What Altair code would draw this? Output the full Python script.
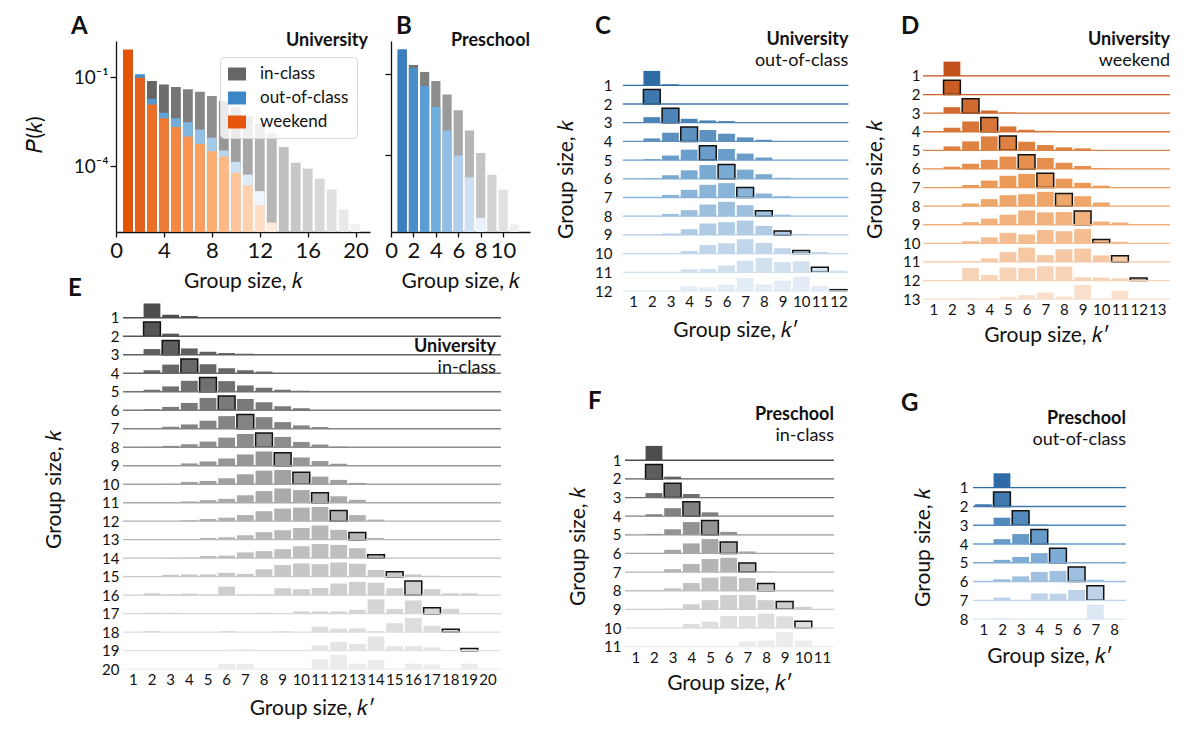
import altair as alt
import pandas as pd

FONT = "Lato"
INK = "#111111"

# ---------------- panels A/B: P(k) by context ----------------
uni_inclass = [0.6, 0.1, 0.074, 0.056, 0.046, 0.039, 0.032, 0.023, 0.0155, 0.0093,
               0.0049, 0.0027, 0.0013, 4.4e-4, 1.3e-4, 8.3e-5, 3.8e-5, 1.66e-5, 3.5e-6, 1.15e-6]
uni_outclass = [0.8, 0.123, 0.0186, 0.0063, 0.0041, 0.003, 0.0017, 9.1e-4, 3.4e-4, 1.4e-4,
                5.2e-5, 1.45e-5]
uni_weekend = [0.85, 0.095, 0.012, 0.0041, 0.0021, 0.001, 5.6e-4, 3.2e-4, 2.1e-4, 6e-5,
               2.3e-5, 4.9e-6, 1.26e-6]

pre_inclass = [0.7, 0.21, 0.117, 0.054, 0.017, 0.0044, 7.9e-4, 1.15e-4, 1.8e-5, 5e-6, 2.6e-7]
pre_outclass = [0.81, 0.166, 0.035, 0.0058, 7.9e-4, 9.3e-5, 1.45e-5, 4.5e-7]

series_names = ["in-class", "out-of-class", "weekend"]
legend_colors = ["#666666", "#3a86c6", "#e6550d"]

a_xticks = [0, 4, 8, 12, 16, 20]
b_xticks = [0, 2, 4, 6, 8, 10]
p_ticks = [1e-1, 1e-4]
p_tick_labels = ["10⁻¹", "10⁻⁴"]

# ---------------- panels C-G: P(k'|k), row-relative bar heights ----------------
uni_out_trans = [
    [0, 43, 3],
    [0, 43],
    [0, 17, 44, 12, 7, 5],
    [0, 9, 26, 43, 34, 23, 12, 5],
    [0, 3, 14, 32, 44, 34, 20, 8],
    [0, 2, 11, 26, 42, 44, 28, 14, 3],
    [0, 0, 8, 23, 38, 43, 30, 12, 4],
    [0, 0, 7, 18, 35, 43, 33, 16, 5],
    [0, 0, 4, 17, 34, 38, 43, 27, 12, 3],
    [0, 0, 1, 8, 26, 31, 43, 32, 16, 9, 5],
    [0, 0, 0, 9, 10, 20, 34, 42, 30, 32, 15, 5],
    [0, 1, 1, 14, 11, 19, 39, 20, 31, 43, 15, 4],
]
uni_wkd_trans = [
    [0, 42],
    [0, 44],
    [0, 18, 43, 8, 2],
    [0, 12, 31, 43, 16, 6, 3],
    [0, 12, 27, 42, 43, 26, 16, 9, 6],
    [0, 7, 16, 28, 38, 44, 34, 19, 9, 2],
    [0, 2, 8, 22, 37, 43, 45, 28, 15, 6],
    [0, 0, 8, 21, 33, 36, 43, 38, 30, 11],
    [0, 0, 8, 19, 31, 44, 38, 39, 42, 10, 7],
    [0, 0, 7, 19, 33, 28, 42, 38, 45, 12, 5],
    [0, 0, 2, 11, 30, 44, 21, 39, 41, 20, 19],
    [0, 0, 38, 17, 39, 38, 43, 42, 10, 9, 7, 8],
    [0, 0, 2, 0, 7, 12, 20, 8, 43, 1, 25],
]
uni_in_trans = [
    [0, 43, 9, 5],
    [0, 44, 8],
    [0, 17, 43, 19, 9, 5, 3],
    [0, 9, 26, 43, 27, 15, 9, 5],
    [0, 6, 16, 33, 43, 32, 19, 12, 6, 3],
    [0, 3, 10, 22, 37, 43, 34, 24, 12, 6],
    [0, 2, 6, 13, 24, 38, 43, 35, 20, 10, 5],
    [0, 1, 4, 9, 17, 29, 40, 43, 31, 16, 8, 2],
    [0, 0, 2, 7, 13, 22, 34, 43, 39, 25, 14, 6],
    [0, 0, 1, 7, 10, 18, 30, 41, 43, 36, 23, 13, 4],
    [0, 0, 0, 4, 8, 12, 23, 36, 44, 39, 31, 20, 9, 2],
    [0, 0, 0, 3, 7, 11, 19, 31, 39, 42, 44, 33, 19, 5],
    [0, 0, 0, 2, 6, 8, 14, 24, 30, 37, 45, 31, 23, 6],
    [0, 0, 1, 2, 7, 8, 18, 22, 28, 37, 44, 41, 31, 11],
    [1, 2, 6, 7, 7, 12, 9, 23, 36, 41, 39, 44, 40, 21, 15, 7, 3],
    [0, 6, 3, 5, 2, 27, 2, 2, 22, 19, 23, 37, 42, 39, 22, 45, 19, 6, 6],
    [0, 3, 3, 0, 0, 0, 0, 3, 0, 7, 7, 7, 12, 43, 14, 40, 18, 15, 2],
    [0, 4, 0, 0, 0, 4, 0, 0, 3, 0, 17, 11, 12, 3, 28, 44, 20, 9],
    [0, 0, 0, 1, 0, 3, 4, 0, 0, 0, 16, 27, 21, 44, 14, 14, 10, 0, 7],
    [0, 0, 0, 0, 0, 16, 16, 0, 0, 0, 31, 44, 17, 29, 0, 17, 15, 0, 17],
]
pre_in_trans = [
    [0, 45],
    [0, 45, 7],
    [0, 14, 45, 11],
    [0, 6, 25, 45, 12],
    [0, 3, 17, 39, 44, 9],
    [0, 0, 11, 30, 43, 34, 6],
    [0, 0, 9, 25, 40, 44, 28, 2],
    [0, 0, 7, 23, 39, 43, 38, 22],
    [0, 0, 2, 15, 27, 42, 42, 27, 23, 8],
    [0, 0, 0, 12, 19, 36, 36, 43, 35, 20],
    [0, 0, 0, 0, 0, 0, 16, 19, 44, 19],
]
pre_out_trans = [
    [0, 44],
    [7, 45, 1],
    [0, 24, 46, 2],
    [0, 15, 31, 45],
    [0, 9, 18, 30, 45],
    [0, 7, 16, 30, 33, 45, 6],
    [0, 9, 0, 22, 21, 33, 46],
    [0, 2, 0, 0, 0, 0, 44],
]

BAR_H = 0.77   # tallest bar in a row, in row units
LINE_X0 = 0.45
PX = 18.67     # pixels per k' step in the ridge panels
TICK_FS = 15


def text_layer(s, x, y, size, weight="normal", align="left"):
    return alt.Chart(pd.DataFrame({"t": [s]})).mark_text(
        align=align, baseline="alphabetic", fontSize=size, fontWeight=weight,
        font=FONT, color=INK
    ).encode(x=alt.value(x), y=alt.value(y), text="t:N")


def long_df(values, series):
    return pd.DataFrame({"k": list(range(1, len(values) + 1)), "p": values, "series": series})


# Helper for the P(k) bar panels (A, B)
def dist_panel(parts, xmax, xticks, ydom, ylabels, width, height, letter, letter_xy,
               name, name_x, legend=False):
    df = pd.concat([long_df(v, s) for s, v, _, _ in parts], ignore_index=True)
    xs = alt.Scale(domain=[0, xmax], nice=False, zero=False)
    ys = alt.Scale(type="log", domain=ydom, nice=False)
    label_expr = " : ".join(
        f"datum.value == {v} ? '{l}'" for v, l in zip(p_ticks, p_tick_labels)) + " : ''"
    xaxis = alt.Axis(values=xticks, format="d", grid=False, labelFontSize=22, labelPadding=3,
                     labelFlush=False, tickSize=5, title="Group size, 𝑘", titleFontSize=21,
                     titleFontWeight="normal", titleBaseline="alphabetic", titleY=55)
    if ylabels:
        yaxis = alt.Axis(values=p_ticks, labelExpr=label_expr, grid=False, labelFontSize=19,
                         labelPadding=2, tickSize=6, title="𝑃(𝑘)", titleFontSize=21,
                         titleFontWeight="normal", titleX=-71, titleY=93)
    else:
        yaxis = alt.Axis(values=p_ticks, labels=False, grid=False, tickSize=6, title=None)

    layers = []
    for s, v, cdom, crange in parts:
        layers.append(
            alt.Chart(df).transform_filter(alt.datum.series == s).transform_calculate(
                x0="datum.k - 0.41", x1="datum.k + 0.41"
            ).mark_bar().encode(
                x=alt.X("x0:Q", scale=xs, axis=xaxis),
                x2="x1:Q",
                y=alt.Y("p:Q", scale=ys, axis=yaxis),
                y2=alt.value("height"),
                color=alt.Color("k:Q", scale=alt.Scale(domain=cdom, range=crange), legend=None),
            )
        )
    if legend:
        layers.append(
            alt.Chart(df).mark_point(filled=True, opacity=0).encode(
                color=alt.Color("series:N",
                                scale=alt.Scale(domain=series_names, range=legend_colors),
                                legend=alt.Legend(
                                    title=None, orient="none", legendX=104, legendY=16,
                                    symbolType="M-1,-0.72H1V0.72H-1Z", symbolSize=324,
                                    symbolOpacity=1, symbolStrokeWidth=0, labelFontSize=17,
                                    labelFont=FONT, labelColor=INK, labelOffset=14,
                                    padding=8, rowPadding=7, strokeColor="#d9d9d9",
                                    fillColor="rgba(255,255,255,0.8)", cornerRadius=4))
            )
        )
    layers.append(text_layer(letter, letter_xy[0], letter_xy[1], 24, "bold"))
    layers.append(text_layer(name, name_x, 5, 18, "bold", "right"))
    return alt.layer(*layers).resolve_scale(color="independent").properties(
        width=width, height=height)


# Helper for the ridge panels (C-G): one row per k, bars over k'
# x_left: domain value at the plot's left edge; x_end: where the row lines stop.
# With own_labels the k' labels are drawn as text through the x scale, so that
# they can run on past the plot's right edge (panel E).
def ridge(mat, crange, name, context, letter, letter_xy, title_y, x_left, x_end, width,
          ydom, row_px, ytitle_xy, yoffset=0, ypad=3, xtitle_y=41, name_x=None,
          own_labels=False):
    n = len(mat)
    rows = [dict(k=k, kp=kp, w=w) for k, r in enumerate(mat, 1) for kp, w in enumerate(r, 1) if w > 0]
    df = pd.DataFrame(rows)
    xs = alt.Scale(domain=[x_left, x_left + width / PX], nice=False, zero=False)
    ys = alt.Scale(domain=ydom, reverse=True, nice=False, zero=False)
    height = (ydom[1] - ydom[0]) * row_px
    ticks = list(range(1, n + 1))
    line_mid = ((LINE_X0 + x_end) / 2 - x_left) * PX
    if name_x is None:
        name_x = (x_end - x_left) * PX
    xaxis = alt.Axis(values=ticks, format="d", ticks=False, domain=False, grid=False,
                     labels=not own_labels,
                     labelFontSize=TICK_FS, labelPadding=1, labelFlush=False, labelOverlap=False,
                     labelBound=False, title="Group size, 𝑘′", titleFontSize=21,
                     titleFontWeight="normal", titleBaseline="alphabetic", titleY=xtitle_y,
                     titleX=line_mid)
    yaxis = alt.Axis(values=ticks, format="d", ticks=False, domain=False, grid=False,
                     labelFontSize=TICK_FS, labelPadding=ypad, offset=yoffset, labelOverlap=False,
                     title="Group size, 𝑘", titleFontSize=21, titleFontWeight="normal",
                     titleX=ytitle_xy[0], titleY=ytitle_xy[1])
    color = alt.Color("k:Q", scale=alt.Scale(domain=[1, (1 + n) / 2, n], range=crange), legend=None)

    base = alt.Chart(df).transform_joinaggregate(wmax="max(w)", groupby=["k"]).transform_calculate(
        top=f"datum.k - {BAR_H} * datum.w / datum.wmax",
        x0="datum.kp - 0.45", x1="datum.kp + 0.45")
    enc = dict(x=alt.X("x0:Q", scale=xs, axis=xaxis), x2="x1:Q",
               y=alt.Y("top:Q", scale=ys, axis=yaxis), y2="k:Q")
    fill = base.mark_bar().encode(color=color, **enc)
    outline = base.transform_filter("datum.k == datum.kp").mark_bar(
        fillOpacity=0, stroke=INK, strokeWidth=1.5).encode(**enc)
    lines = alt.Chart(pd.DataFrame({"k": ticks})).mark_rule(strokeWidth=1.3).encode(
        x=alt.X(datum=LINE_X0, type="quantitative", scale=xs, axis=xaxis),
        x2=alt.X2(datum=x_end),
        y=alt.Y("k:Q", scale=ys, axis=yaxis),
        color=color)
    layers = [fill, outline, lines]
    if own_labels:
        layers.append(
            alt.Chart(pd.DataFrame({"kp": ticks})).mark_text(
                baseline="top", fontSize=TICK_FS, font=FONT, color=INK
            ).encode(x=alt.X("kp:Q", scale=xs, axis=xaxis), y=alt.value(height + 1),
                     text="kp:Q"))
    layers += [text_layer(letter, letter_xy[0], letter_xy[1], 24, "bold"),
               text_layer(name, name_x, title_y, 18, "bold", "right"),
               text_layer(context, name_x, title_y + 21, 18, "normal", "right")]
    return alt.layer(*layers).properties(width=width, height=height)


def spacer():
    return alt.Chart(pd.DataFrame({"t": [""]})).mark_text().encode(text="t:N").properties(
        width=1, height=1)


gray_a = ["#555555", "#a0a0a0", "#f0f0f0"]
pA = dist_panel(
    [("in-class", uni_inclass, [1, 10, 20], gray_a),
     ("out-of-class", uni_outclass, [1, 6, 12], ["#3a82c4", "#7fb6df", "#eef5fc"]),
     ("weekend", uni_weekend, [1, 7, 13], ["#e35309", "#fd9f5c", "#feeadb"])],
    21.2, a_xticks, [6.1e-7, 1.63], True, 254, 191, "A", (-45, -7), "University", 252,
    legend=True)
pB = dist_panel(
    [("in-class", pre_inclass, [1, 6, 11], ["#666666", "#a8a8a8", "#efefef"]),
     ("out-of-class", pre_outclass, [1, 4, 8], ["#3a7fc0", "#6eaedc", "#e9f1fb"])],
    12.4, b_xticks, [1.35e-7, 1.64], False, 139, 191, "B", (5, -7), "Preschool", 139)

blues = ["#2f6ca6", "#80b0d6", "#e3ecf6"]
oranges = ["#c2501a", "#ec9a58", "#f8e0cc"]
grays = ["#4d4d4d", "#a6a6a6", "#ececec"]

pC = ridge(uni_out_trans, blues, "University", "out-of-class", "C", (44, -7), 4,
           -3.4, 12.53, 292, [-1.37, 12.15], 18.7, (-39, 138), yoffset=-64, xtitle_y=43)
pD = ridge(uni_wkd_trans, oranges, "University", "weekend", "D", (37, -7), 4,
           -2.71, 13.68, 306, [-0.88, 13.15], 18.6, (-38, 138), yoffset=-59, xtitle_y=40)
# E is narrower than its content on purpose: the rows run on under panel B
pE = ridge(uni_in_trans, grays, "University", "in-class", "E", (-48, -6), 50,
           0.073, 20.69, 254, [0.15, 20.15], 18.5, (-58, 187), yoffset=-6, xtitle_y=42,
           name_x=380, own_labels=True)
pF = ridge(pre_in_trans, grays, "Preschool", "in-class", "F", (37, 107), 118,
           -3.515, 11.64, 283, [-7.49, 11.15], 18.64, (-35, 244), yoffset=-72, ypad=2,
           xtitle_y=40)
pG = ridge(pre_out_trans, ["#2e6aa5", "#6ea2cf", "#dce7f3"], "Preschool", "out-of-class", "G",
           (37, 109), 122, -5.39, 8.64, 262, [-8.9, 8.15], 18.76, (-41, 245), yoffset=-110,
           ypad=6, xtitle_y=41)

chart = alt.concat(
    pA, pB, pC, pD, pE, spacer(), pF, pG,
    columns=4, spacing={"row": 0, "column": 21}, bounds="flush",
    align={"row": "each", "column": "each"}
).resolve_scale(color="independent").properties(
    padding={"left": 16, "top": 7, "right": 5, "bottom": 5}
).configure(font=FONT).configure_view(stroke=None).configure_axis(
    labelColor=INK, titleColor=INK, domainColor=INK, tickColor=INK,
    domainWidth=1.3, tickWidth=1.3, labelFont=FONT, titleFont=FONT
)

chart.save("out.html", embed_options={"renderer": "svg", "actions": False})
